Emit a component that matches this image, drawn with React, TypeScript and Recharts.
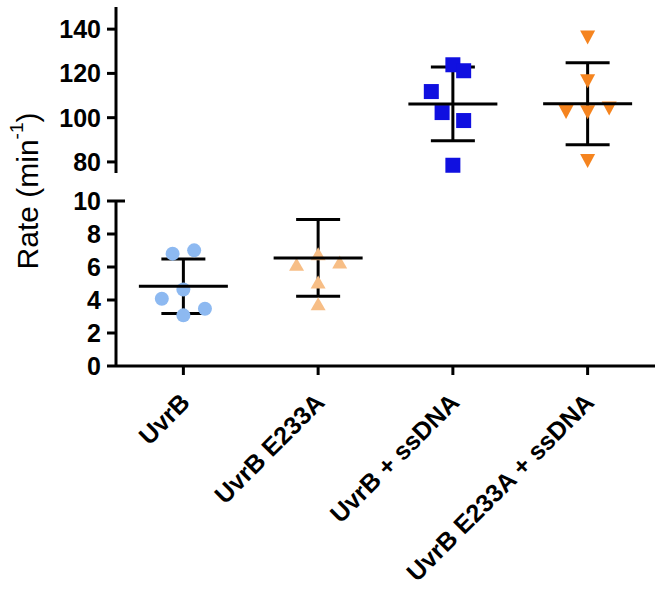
import React from "react";
import { ErrorBar, Scatter, ScatterChart, XAxis, YAxis } from "recharts";

const groups = ["UvrB", "UvrB E233A", "UvrB + ssDNA", "UvrB E233A + ssDNA"];

// rates (min^-1), with horizontal spread inside each column
const uvrB = [6.81, 7.01, 4.64, 4.08, 3.47, 3.07];
const uvrBSpread = [-0.08, 0.08, 0, -0.16, 0.16, 0];
const e233a = [6.16, 6.8, 6.3, 5.09, 3.78];
const e233aSpread = [-0.16, 0, 0.16, 0, 0];
const uvrBss = [123.9, 121.2, 111.8, 102.3, 98.7, 78.5];
const uvrBssSpread = [0, 0.08, -0.16, -0.08, 0.08, 0];
const e233aSs = [136.2, 116.4, 102.6, 102.5, 104.1, 80.4];
const e233aSsSpread = [0, 0, -0.16, 0, 0.16, 0];

// mean and SD as drawn
const means = [4.83, 6.55, 106.2, 106.3];
const sds = [1.65, 2.33, 16.65, 18.5];

const lowTicks = [0, 2, 4, 6, 8, 10];
const highTicks = [75, 80, 100, 120, 140];

const FONT = '"Liberation Sans", Arial, sans-serif';
const INK = "#000";

const pts = (vals: number[], spread: number[], g: number) => vals.map((y, i) => ({ x: g + spread[i], y }));
const meanRow = (g: number) => [{ x: g, y: means[g], sd: sds[g] }];

function YTick(props: any) {
  const { x, y, payload, breakLow, breakHigh } = props;
  const ax = x + 15; // axis line (tickSize 9 + tickMargin 6)
  const v = payload.value;
  if (v === breakLow) return <line x1={ax} x2={ax + 9} y1={y} y2={y} stroke={INK} strokeWidth={3} />;
  return (
    <g>
      <line x1={ax - 9} x2={v === breakHigh ? ax + 9 : ax} y1={y} y2={y} stroke={INK} strokeWidth={3} />
      <text x={x} y={y} dy="0.36em" textAnchor="end" fontSize={25} fontWeight="bold" fontFamily={FONT} fill={INK}>{v}</text>
    </g>
  );
}

function XTick({ x, y, payload }: any) {
  const ay = y - 11; // axis line y
  return (
    <g>
      <line x1={x} x2={x} y1={ay} y2={ay + 9} stroke={INK} strokeWidth={3} />
      <text transform={`translate(${x + 8},${ay + 38}) rotate(-45)`} textAnchor="end" fontSize={25} fontWeight="bold" fontFamily={FONT} fill={INK}>
        {groups[payload.value]}
      </text>
    </g>
  );
}

const circle = (p: any) => <circle cx={p.cx} cy={p.cy} r={7} fill="#8DB9F1" />;
const triUp = (p: any) => <path d={`M${p.cx},${p.cy - 6.5}L${p.cx + 7.5},${p.cy + 6.5}L${p.cx - 7.5},${p.cy + 6.5}Z`} fill="#F7BE86" />;
const square = (p: any) => <rect x={p.cx - 7.5} y={p.cy - 7.5} width={15} height={15} fill="#1010E0" />;
const triDown = (p: any) => <path d={`M${p.cx - 7.5},${p.cy - 7}L${p.cx + 7.5},${p.cy - 7}L${p.cx},${p.cy + 7}Z`} fill="#F5841F" />;
const meanLine = (p: any) => <line x1={p.cx - 44.5} x2={p.cx + 44.5} y1={p.cy} y2={p.cy} stroke={INK} strokeWidth={3} />;

export default function App() {
  return (
    <div style={{ position: "absolute", left: 0, top: 0, width: 661, height: 596, background: "#fff" }}>
      <ScatterChart width={661} height={180} margin={{ top: 7, right: 6, left: 0, bottom: 7 }}>
        <XAxis type="number" dataKey="x" domain={[-0.5, 3.5]} hide />
        <YAxis type="number" dataKey="y" domain={[75, 150]} ticks={highTicks} width={116} tickSize={9} tickMargin={6}
          tickLine={false} axisLine={{ stroke: INK, strokeWidth: 3 }}
          tick={(p: any) => <YTick {...p} breakLow={75} />} />
        <Scatter data={pts(uvrBss, uvrBssSpread, 2)} shape={square} isAnimationActive={false} />
        <Scatter data={pts(e233aSs, e233aSsSpread, 3)} shape={triDown} isAnimationActive={false} />
        {[2, 3].map((g) => (
          <Scatter key={g} data={meanRow(g)} shape={meanLine} isAnimationActive={false}>
            <ErrorBar dataKey="sd" direction="y" width={22} stroke={INK} strokeWidth={3} />
          </Scatter>
        ))}
      </ScatterChart>
      <ScatterChart width={661} height={416} margin={{ top: 21, right: 6, left: 0, bottom: 0 }}>
        <XAxis type="number" dataKey="x" domain={[-0.5, 3.5]} ticks={[0, 1, 2, 3]} height={230} tickSize={9} tickMargin={2}
          tickLine={false} axisLine={{ stroke: INK, strokeWidth: 3 }} tick={<XTick />} interval={0} />
        <YAxis type="number" dataKey="y" domain={[0, 10]} ticks={lowTicks} width={116} tickSize={9} tickMargin={6}
          tickLine={false} axisLine={{ stroke: INK, strokeWidth: 3 }}
          tick={(p: any) => <YTick {...p} breakHigh={10} />} />
        <Scatter data={pts(uvrB, uvrBSpread, 0)} shape={circle} isAnimationActive={false} />
        <Scatter data={pts(e233a, e233aSpread, 1)} shape={triUp} isAnimationActive={false} />
        {[0, 1].map((g) => (
          <Scatter key={g} data={meanRow(g)} shape={meanLine} isAnimationActive={false}>
            <ErrorBar dataKey="sd" direction="y" width={22} stroke={INK} strokeWidth={3} />
          </Scatter>
        ))}
      </ScatterChart>
      <svg width={60} height={596} style={{ position: "absolute", left: 0, top: 0 }}>
        <text transform="translate(27,191) rotate(-90)" textAnchor="middle" dominantBaseline="central" fontSize={30} fontFamily={FONT} fill={INK}>
          Rate (min<tspan dy={-11} fontSize={19}>-1</tspan><tspan dy={11}>)</tspan>
        </text>
      </svg>
    </div>
  );
}
